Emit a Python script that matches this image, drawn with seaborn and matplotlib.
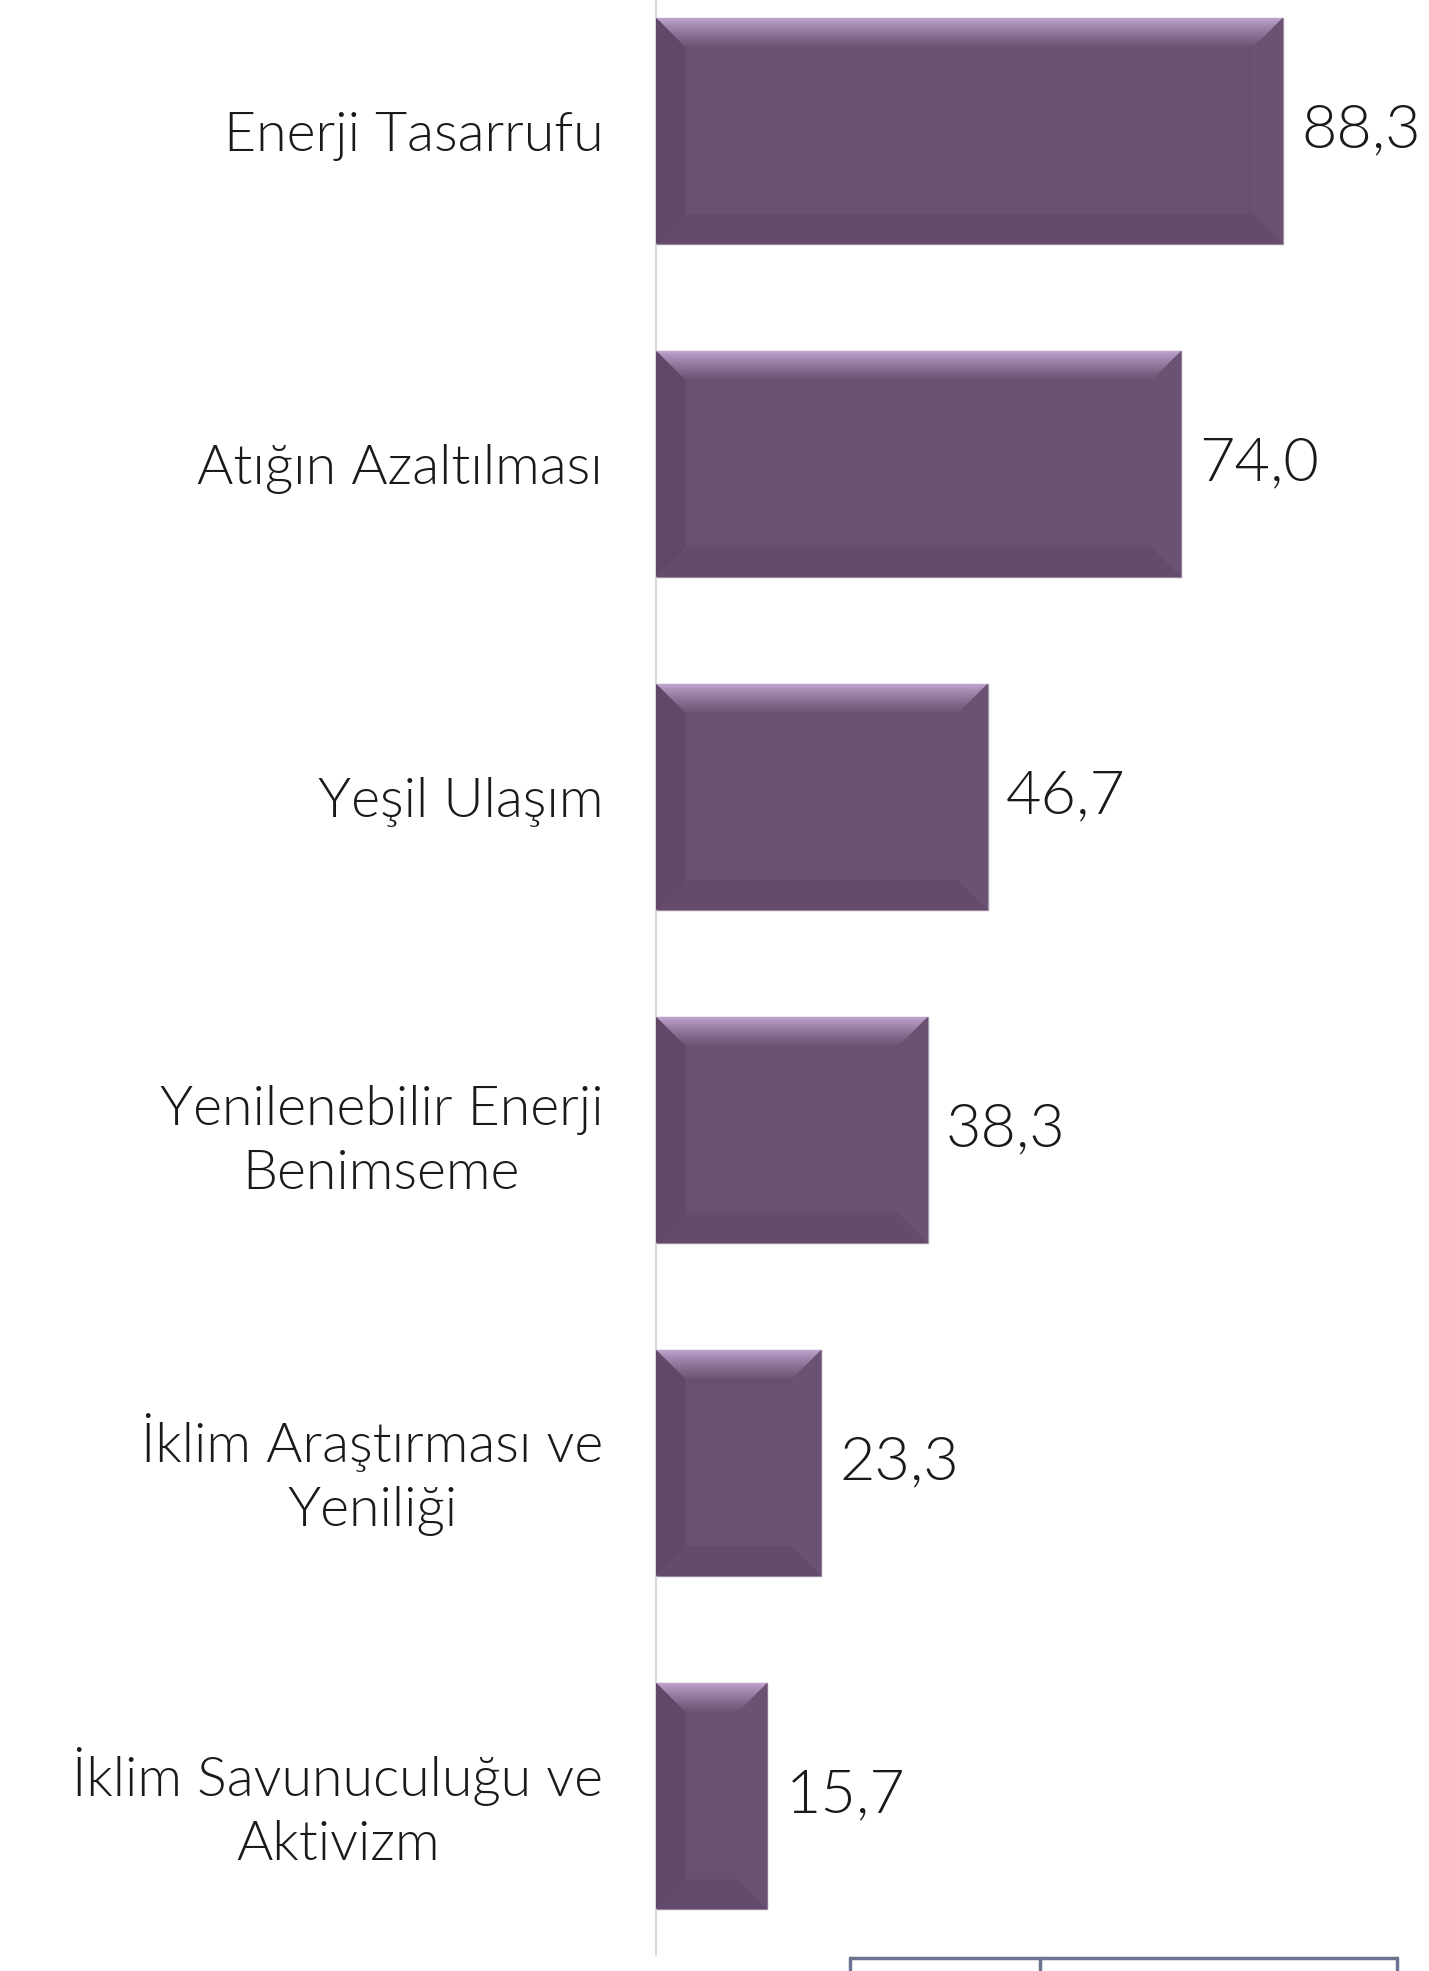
import numpy as np
import pandas as pd
import matplotlib
matplotlib.use("Agg")
import matplotlib.pyplot as plt
import seaborn as sns
from matplotlib.patches import Polygon
from matplotlib.lines import Line2D
from matplotlib.colors import to_rgba

categories = [
    "Enerji Tasarrufu",
    "Atığın Azaltılması",
    "Yeşil Ulaşım",
    "Yenilenebilir Enerji\nBenimseme",
    "İklim Araştırması ve\nYeniliği",
    "İklim Savunuculuğu ve\nAktivizm",
]
values = [88.3, 74.0, 46.7, 38.3, 23.3, 15.7]
value_labels = ["88,3", "74,0", "46,7", "38,3", "23,3", "15,7"]

BAR = "#6A5070"

sns.set_theme(style="white")
plt.rcParams["font.family"] = ["Lato", "DejaVu Sans"]

W, H = 1429, 1971
fig = plt.figure(figsize=(W / 100, H / 100), dpi=100)
x0px = 656
ax = fig.add_axes([x0px / W, 0, (W - x0px) / W, 1])

df = pd.DataFrame({"cat": categories, "val": values})
sns.barplot(data=df, y="cat", x="val", orient="h", color=BAR, saturation=1,
            width=0.68, edgecolor="#A898AE", linewidth=1.0, ax=ax)

px_per_unit = 7.1
xmax = (W - x0px) / px_per_unit
pitch = 333.0
c0 = 131.0
ytop = -c0 / pitch
ybot = (H - c0) / pitch

# bevel decoration built from the bar patches
bx = 30 / px_per_unit
by = 30 / pitch
top_c = np.array(to_rgba("#C2A6D2"))
mid_c = np.array(to_rgba(BAR))
grad = np.linspace(0, 1, 64)[:, None] ** 0.8
grad_img = (top_c[None, :] * (1 - grad) + mid_c[None, :] * grad)[:, None, :]
for p in list(ax.patches):
    x, y, w, h = p.get_x(), p.get_y(), p.get_width(), p.get_height()
    top = Polygon([(x, y), (x + w, y), (x + w - bx, y + by), (x + bx, y + by)],
                  closed=True, facecolor="none", edgecolor="none")
    ax.add_patch(top)
    im = ax.imshow(grad_img, extent=(x, x + w, y + by, y), origin="upper",
                   aspect="auto", zorder=3, interpolation="bilinear")
    im.set_clip_path(top)
    ax.add_patch(Polygon([(x, y), (x + bx, y + by), (x + bx, y + h - by), (x, y + h)],
                         closed=True, facecolor="#624868", edgecolor="none", zorder=3))
    ax.add_patch(Polygon([(x + w, y), (x + w - bx, y + by), (x + w - bx, y + h - by), (x + w, y + h)],
                         closed=True, facecolor="#6C5272", edgecolor="none", zorder=3))
    ax.add_patch(Polygon([(x, y + h), (x + bx, y + h - by), (x + w - bx, y + h - by), (x + w, y + h)],
                         closed=True, facecolor="#654B6B", edgecolor="none", zorder=3))

ax.bar_label(ax.containers[0], labels=value_labels, padding=13, fontsize=44,
             color="#1A1A1A", fontweight=300)

ax.set_xlim(0, xmax)
ax.set_ylim(ybot, ytop)
ax.set_xlabel("")
ax.set_ylabel("")
ax.set_xticks([])
for s in ["top", "right", "bottom"]:
    ax.spines[s].set_visible(False)
ax.spines["left"].set_color("#D9D9D9")
ax.spines["left"].set_linewidth(1.5)
ax.spines["left"].set_bounds((1955 - c0) / pitch, ytop)
ax.tick_params(axis="y", length=0, pad=38, labelsize=40, labelcolor="#1A1A1A")
for lab in ax.get_yticklabels():
    lab.set_multialignment("center")
    lab.set_linespacing(1.35)
    lab.set_fontweight(300)

# partial table frame at the bottom edge
lc = "#6B7590"
ybox = 1 - 1958 / H
fig.add_artist(Line2D([850 / W, 1397 / W], [ybox, ybox], transform=fig.transFigure, color=lc, lw=2.5))
for xv in [850, 1040, 1397]:
    fig.add_artist(Line2D([xv / W, xv / W], [ybox, 0], transform=fig.transFigure, color=lc, lw=2.5))

fig.savefig("out.png", dpi=100)
